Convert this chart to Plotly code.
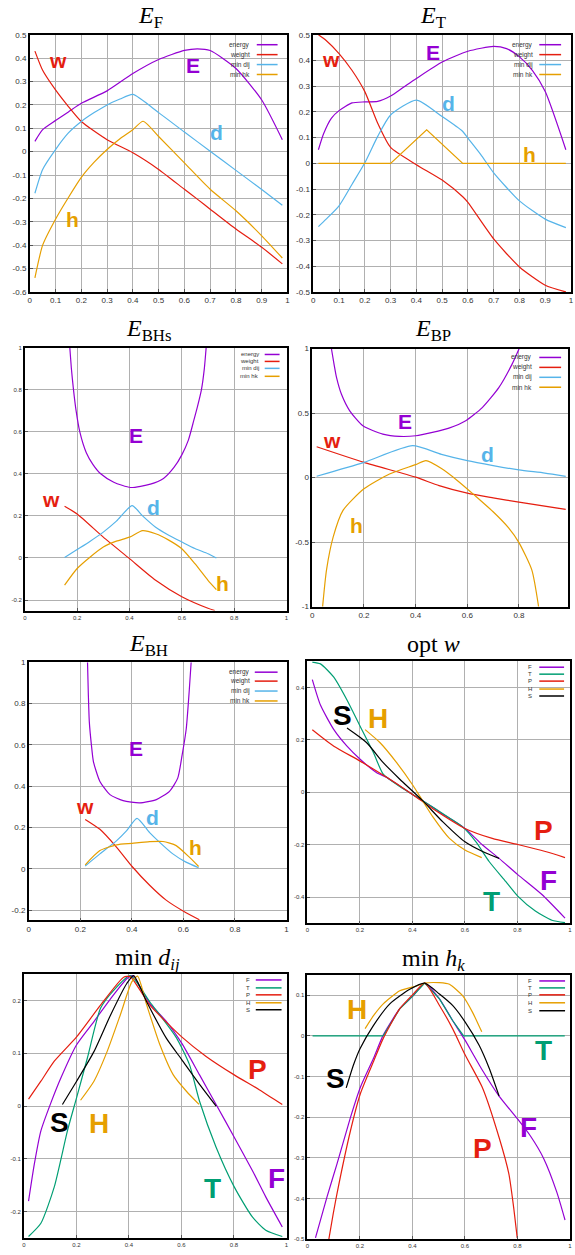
import plotly.graph_objects as go

W, H = 575, 1255

PURPLE = '#9400d3'
RED = '#e51e10'
BLUE = '#56b4e9'
ORANGE = '#e69f00'
GREEN = '#009e73'
BLACK = '#000000'

# ---------------- tick values ----------------
X_TICKS_01 = [0, 0.1, 0.2, 0.3, 0.4, 0.5, 0.6, 0.7, 0.8, 0.9, 1]
X_TICKS_02 = [0, 0.2, 0.4, 0.6, 0.8, 1]
EF_YTICKS = [-0.6, -0.5, -0.4, -0.3, -0.2, -0.1, 0, 0.1, 0.2, 0.3, 0.4, 0.5]
ET_YTICKS = [-0.5, -0.4, -0.3, -0.2, -0.1, 0, 0.1, 0.2, 0.3, 0.4, 0.5]
BH_YTICKS = [-0.2, 0, 0.2, 0.4, 0.6, 0.8, 1]
BP_YTICKS = [-1, -0.5, 0, 0.5, 1]
W_YTICKS = [-0.4, -0.2, 0, 0.2, 0.4]
D_YTICKS = [-0.2, -0.1, 0, 0.1, 0.2]
HK_YTICKS = [-0.5, -0.4, -0.3, -0.2, -0.1, 0, 0.1]

ENERGY_NAMES = ['energy', 'weight', 'min dij', 'min hk']
METHOD_NAMES = ['F', 'T', 'P', 'H', 'S']

# ---------------- E_F ----------------
ef_x = [0.02, 0.05, 0.1, 0.15, 0.2, 0.3, 0.4, 0.5, 0.6, 0.65, 0.7, 0.8, 0.9, 0.98]
ef_energy = [0.044, 0.094, 0.133, 0.17, 0.207, 0.26, 0.334, 0.394, 0.433, 0.44, 0.433, 0.356, 0.221, 0.051]
ef_weight = [0.43, 0.348, 0.264, 0.193, 0.129, 0.051, -0.005, -0.076, -0.161, -0.203, -0.246, -0.331, -0.409, -0.48]
ef_d_x = [0.02, 0.05, 0.1, 0.15, 0.2, 0.25, 0.3, 0.35, 0.4, 0.5, 0.6, 0.7, 0.8, 0.9, 0.98]
ef_d = [-0.178, -0.076, 0.009, 0.08, 0.129, 0.167, 0.2, 0.225, 0.245, 0.167, 0.084, 0.002, -0.08, -0.162, -0.229]
ef_h_x = [0.02, 0.05, 0.1, 0.15, 0.2, 0.25, 0.3, 0.35, 0.4, 0.44, 0.5, 0.6, 0.7, 0.8, 0.9, 0.98]
ef_h = [-0.54, -0.40, -0.289, -0.196, -0.11, -0.045, 0.009, 0.055, 0.094, 0.13, 0.065, -0.048, -0.161, -0.253, -0.36, -0.455]

# ---------------- E_T ----------------
et_e_x = [0.02, 0.04, 0.07, 0.1, 0.15, 0.2, 0.25, 0.3, 0.35, 0.4, 0.5, 0.6, 0.7, 0.75, 0.8, 0.85, 0.9, 0.98]
et_energy = [0.053, 0.115, 0.175, 0.205, 0.235, 0.239, 0.241, 0.262, 0.296, 0.33, 0.394, 0.436, 0.455, 0.446, 0.414, 0.362, 0.279, 0.053]
et_w_x = [0.02, 0.05, 0.1, 0.15, 0.2, 0.25, 0.3, 0.4, 0.5, 0.58, 0.6, 0.7, 0.8, 0.9, 0.98]
et_weight = [0.5, 0.478, 0.427, 0.362, 0.279, 0.156, 0.062, -0.005, -0.065, -0.13, -0.152, -0.294, -0.403, -0.474, -0.5]
et_d_x = [0.02, 0.05, 0.1, 0.15, 0.2, 0.25, 0.3, 0.4, 0.5, 0.58, 0.6, 0.65, 0.7, 0.8, 0.9, 0.98]
et_d = [-0.246, -0.217, -0.165, -0.082, 0.002, 0.105, 0.188, 0.246, 0.182, 0.124, 0.098, 0.034, -0.037, -0.146, -0.217, -0.25]
et_h_x = [0.02, 0.3, 0.44, 0.58, 0.98]
et_h = [0, 0, 0.13, 0, 0]

# ---------------- E_BHs ----------------
bhs_e_x = [0.168, 0.172, 0.178, 0.186, 0.196, 0.21, 0.235, 0.26, 0.29, 0.34, 0.404, 0.48, 0.53, 0.57, 0.6, 0.625, 0.645, 0.66, 0.675, 0.686, 0.693, 0.696]
bhs_energy = [1.05, 1.0, 0.9, 0.8, 0.7, 0.6, 0.5, 0.445, 0.4, 0.36, 0.335, 0.351, 0.378, 0.43, 0.49, 0.56, 0.65, 0.72, 0.8, 0.9, 1.0, 1.05]
bhs_w_x = [0.152, 0.2, 0.3, 0.4, 0.5, 0.6, 0.7, 0.726]
bhs_weight = [0.246, 0.209, 0.099, -0.003, -0.106, -0.184, -0.239, -0.25]
bhs_d_x = [0.152, 0.2, 0.25, 0.3, 0.35, 0.41, 0.45, 0.5, 0.55, 0.6, 0.65, 0.7, 0.732]
bhs_d = [0.002, 0.04, 0.08, 0.123, 0.175, 0.249, 0.2, 0.146, 0.108, 0.076, 0.045, 0.02, 0.0]
bhs_h_x = [0.152, 0.2, 0.25, 0.3, 0.35, 0.4, 0.45, 0.5, 0.55, 0.6, 0.65, 0.7, 0.732]
bhs_h = [-0.129, -0.05, 0.005, 0.052, 0.08, 0.099, 0.13, 0.115, 0.085, 0.044, -0.027, -0.106, -0.15]

# ---------------- E_BP ----------------
bp_e_x = [0.074, 0.085, 0.094, 0.113, 0.145, 0.196, 0.273, 0.337, 0.401, 0.465, 0.529, 0.594, 0.658, 0.722, 0.773, 0.801]
bp_energy = [1.0, 0.87, 0.774, 0.645, 0.517, 0.401, 0.337, 0.319, 0.324, 0.35, 0.383, 0.44, 0.542, 0.697, 0.877, 1.0]
bp_w_x = [0.017, 0.2, 0.4, 0.491, 0.6, 0.7, 0.8, 0.981]
bp_weight = [0.239, 0.118, 0.003, -0.062, -0.121, -0.157, -0.19, -0.247]
bp_d_x = [0.017, 0.2, 0.388, 0.5, 0.6, 0.7, 0.8, 0.9, 0.981]
bp_d = [0.01, 0.118, 0.247, 0.18, 0.131, 0.093, 0.059, 0.035, 0.01]
bp_h_x = [0.04, 0.055, 0.081, 0.119, 0.2, 0.299, 0.4, 0.44, 0.5, 0.56, 0.63, 0.7, 0.76, 0.8, 0.85, 0.876]
bp_h = [-1.0, -0.717, -0.46, -0.254, -0.087, 0.028, 0.1, 0.131, 0.07, -0.02, -0.14, -0.265, -0.39, -0.504, -0.717, -1.0]

# ---------------- E_BH ----------------
bh_e_x = [0.228, 0.231, 0.235, 0.243, 0.251, 0.276, 0.315, 0.366, 0.43, 0.495, 0.546, 0.578, 0.595, 0.611, 0.623, 0.63]
bh_energy = [1.0, 0.85, 0.71, 0.6, 0.518, 0.423, 0.359, 0.33, 0.319, 0.335, 0.375, 0.439, 0.55, 0.678, 0.869, 1.0]
bh_w_x = [0.219, 0.276, 0.341, 0.401, 0.469, 0.533, 0.602, 0.662]
bh_weight = [0.239, 0.191, 0.104, 0.011, -0.08, -0.152, -0.207, -0.247]
bh_d_x = [0.219, 0.276, 0.341, 0.379, 0.42, 0.469, 0.508, 0.559, 0.61, 0.659]
bh_d = [0.013, 0.072, 0.136, 0.183, 0.244, 0.175, 0.128, 0.072, 0.032, 0.005]
bh_h_x = [0.219, 0.276, 0.341, 0.401, 0.469, 0.521, 0.572, 0.623, 0.659]
bh_h = [0.019, 0.088, 0.116, 0.123, 0.131, 0.132, 0.112, 0.056, 0.011]

# ---------------- opt w ----------------
ow_f_x = [0.019, 0.05, 0.101, 0.151, 0.201, 0.264, 0.302, 0.35, 0.403, 0.438, 0.503, 0.6, 0.667, 0.73, 0.801, 0.893, 0.981]
ow_f = [0.43, 0.333, 0.239, 0.176, 0.126, 0.075, 0.057, 0.025, -0.01, -0.031, -0.075, -0.138, -0.201, -0.252, -0.314, -0.39, -0.48]
ow_t_x = [0.019, 0.05, 0.1, 0.151, 0.201, 0.252, 0.289, 0.352, 0.438, 0.541, 0.591, 0.642, 0.692, 0.755, 0.801, 0.868, 0.931, 0.981]
ow_t = [0.497, 0.49, 0.44, 0.352, 0.252, 0.151, 0.069, 0.022, -0.031, -0.098, -0.132, -0.189, -0.264, -0.34, -0.396, -0.453, -0.488, -0.497]
ow_p_x = [0.019, 0.101, 0.201, 0.302, 0.403, 0.478, 0.6, 0.704, 0.801, 0.906, 0.981]
ow_p = [0.239, 0.176, 0.119, 0.057, -0.01, -0.063, -0.138, -0.176, -0.199, -0.226, -0.249]
ow_h_x = [0.22, 0.277, 0.34, 0.403, 0.438, 0.478, 0.541, 0.6, 0.664]
ow_h = [0.239, 0.189, 0.113, 0.025, -0.031, -0.094, -0.176, -0.22, -0.249]
ow_s_x = [0.151, 0.226, 0.289, 0.352, 0.438, 0.516, 0.6, 0.667, 0.73]
ow_s = [0.245, 0.189, 0.113, 0.05, -0.031, -0.113, -0.189, -0.226, -0.252]

# ---------------- min d_ij ----------------
md_f_x = [0.018, 0.04, 0.065, 0.103, 0.141, 0.201, 0.267, 0.33, 0.392, 0.413, 0.48, 0.543, 0.601, 0.669, 0.732, 0.801, 0.87, 0.921, 0.984]
md_f = [-0.18, -0.11, -0.047, 0.006, 0.053, 0.116, 0.16, 0.203, 0.241, 0.247, 0.194, 0.16, 0.119, 0.059, 0.003, -0.059, -0.122, -0.172, -0.229]
md_t_x = [0.018, 0.065, 0.116, 0.166, 0.201, 0.242, 0.292, 0.342, 0.405, 0.48, 0.58, 0.631, 0.669, 0.732, 0.801, 0.87, 0.921, 0.984]
md_t = [-0.247, -0.222, -0.153, -0.047, 0.016, 0.091, 0.185, 0.219, 0.247, 0.197, 0.13, 0.078, 0.009, -0.078, -0.153, -0.21, -0.235, -0.247]
md_p_x = [0.018, 0.065, 0.116, 0.201, 0.292, 0.38, 0.405, 0.48, 0.601, 0.694, 0.801, 0.896, 0.984]
md_p = [0.013, 0.047, 0.085, 0.131, 0.191, 0.244, 0.245, 0.191, 0.131, 0.094, 0.059, 0.031, 0.003]
md_h_x = [0.216, 0.267, 0.317, 0.367, 0.411, 0.433, 0.468, 0.518, 0.569, 0.619, 0.667]
md_h = [0.011, 0.047, 0.103, 0.172, 0.235, 0.246, 0.191, 0.116, 0.059, 0.028, 0.003]
md_s_x = [0.147, 0.201, 0.267, 0.33, 0.392, 0.418, 0.468, 0.543, 0.601, 0.669, 0.732]
md_s = [0.003, 0.047, 0.103, 0.172, 0.232, 0.247, 0.197, 0.128, 0.088, 0.041, 0.0]

# ---------------- min h_k ----------------
mh_f_x = [0.031, 0.075, 0.113, 0.164, 0.201, 0.252, 0.289, 0.352, 0.403, 0.447, 0.503, 0.553, 0.59, 0.601, 0.667, 0.73, 0.801, 0.85, 0.9, 0.95, 0.981]
mh_f = [-0.497, -0.396, -0.315, -0.201, -0.128, -0.055, 0.002, 0.067, 0.099, 0.13, 0.091, 0.038, 0.0, -0.011, -0.085, -0.148, -0.205, -0.247, -0.302, -0.385, -0.453]
mh_t_x = [0.02, 0.289, 0.352, 0.403, 0.447, 0.503, 0.553, 0.58, 0.595, 0.98]
mh_t = [0, 0, 0.067, 0.099, 0.13, 0.091, 0.038, 0.012, 0, 0]
mh_p_x = [0.082, 0.098, 0.113, 0.164, 0.201, 0.252, 0.289, 0.352, 0.403, 0.447, 0.503, 0.553, 0.601, 0.667, 0.73, 0.767, 0.785, 0.799]
mh_p = [-0.5, -0.44, -0.388, -0.234, -0.144, -0.063, -0.006, 0.067, 0.103, 0.13, 0.075, 0.018, -0.047, -0.128, -0.25, -0.339, -0.42, -0.497]
mh_h_x = [0.22, 0.252, 0.289, 0.352, 0.415, 0.447, 0.503, 0.541, 0.591, 0.629, 0.664]
mh_h = [0.018, 0.05, 0.079, 0.111, 0.123, 0.13, 0.131, 0.127, 0.099, 0.058, 0.01]
mh_s_x = [0.148, 0.176, 0.201, 0.252, 0.314, 0.39, 0.447, 0.503, 0.553, 0.601, 0.654, 0.692, 0.73]
mh_s = [-0.128, -0.071, -0.031, 0.026, 0.079, 0.115, 0.13, 0.103, 0.075, 0.034, -0.023, -0.079, -0.148]

# piecewise straight series keep straight segments
LINEAR = [id(et_h), id(mh_t)]


def px(x):
    return x / W


def py(y):
    return 1 - y / H


ecol = [PURPLE, RED, BLUE, ORANGE]
mcol = [PURPLE, GREEN, RED, ORANGE, BLACK]

panels = [
    dict(box=(28, 31, 288, 290), xr=[0, 1], yr=[-0.6, 0.5], xt=X_TICKS_01, yt=EF_YTICKS, fs=8,
         title='<i>E</i><sub>F</sub>', tpos=(150, 13),
         series=[(ef_x, ef_energy), (ef_x, ef_weight), (ef_d_x, ef_d), (ef_h_x, ef_h)], colors=ecol, names=ENERGY_NAMES,
         leg=(252, 257, 278, [41, 51, 61, 71], 6.5),
         labels=[('w', 0.11, 0.39, RED), ('E', 0.632, 0.37, PURPLE), ('d', 0.724, 0.08, BLUE), ('h', 0.167, -0.289, ORANGE)], lsize=21),
    dict(box=(314, 31, 574, 290), xr=[0, 1], yr=[-0.5, 0.5], xt=X_TICKS_01, yt=ET_YTICKS, fs=8,
         title='<i>E</i><sub>T</sub>', tpos=(435, 13),
         series=[(et_e_x, et_energy), (et_w_x, et_weight), (et_d_x, et_d), (et_h_x, et_h)], colors=ecol, names=ENERGY_NAMES,
         leg=(538, 542, 564, [41, 51, 61, 71], 6.5),
         labels=[('w', 0.07, 0.403, RED), ('E', 0.464, 0.43, PURPLE), ('d', 0.524, 0.234, BLUE), ('h', 0.84, 0.034, ORANGE)], lsize=21),
    dict(box=(23, 346, 287, 611), xr=[0, 1], yr=[-0.25, 1], xt=X_TICKS_02, yt=BH_YTICKS, fs=6,
         title='<i>E</i><sub>BHs</sub>', tpos=(148, 328),
         series=[(bhs_e_x, bhs_energy), (bhs_w_x, bhs_weight), (bhs_d_x, bhs_d), (bhs_h_x, bhs_h)], colors=ecol, names=ENERGY_NAMES,
         leg=(261, 265, 280, [353, 360, 367, 375], 6),
         labels=[('w', 0.1, 0.28, RED), ('E', 0.423, 0.58, PURPLE), ('d', 0.49, 0.24, BLUE), ('h', 0.755, -0.12, ORANGE)], lsize=21),
    dict(box=(313, 347, 571, 607), xr=[0, 0.99], yr=[-1, 1], xt=X_TICKS_02, yt=BP_YTICKS, fs=8,
         title='<i>E</i><sub>BP</sub>', tpos=(435, 328),
         series=[(bp_e_x, bp_energy), (bp_w_x, bp_weight), (bp_d_x, bp_d), (bp_h_x, bp_h)], colors=ecol, names=ENERGY_NAMES,
         leg=(537, 542, 564, [356, 366, 376, 386], 6.5),
         labels=[('w', 0.078, 0.29, RED), ('E', 0.36, 0.434, PURPLE), ('d', 0.677, 0.177, BLUE), ('h', 0.17, -0.37, ORANGE)], lsize=21),
    dict(box=(27, 663, 287, 923), xr=[0, 1], yr=[-0.25, 1], xt=X_TICKS_02, yt=BH_YTICKS, fs=8,
         title='<i>E</i><sub>BH</sub>', tpos=(148, 646),
         series=[(bh_e_x, bh_energy), (bh_w_x, bh_weight), (bh_d_x, bh_d), (bh_h_x, bh_h)], colors=ecol, names=ENERGY_NAMES,
         leg=(252, 255, 278, [673, 682, 692, 702], 6.5),
         labels=[('w', 0.219, 0.3, RED), ('E', 0.418, 0.58, PURPLE), ('d', 0.482, 0.247, BLUE), ('h', 0.647, 0.104, ORANGE)], lsize=21),
    dict(box=(308, 662, 573, 926), xr=[0, 1], yr=[-0.5, 0.5], xt=X_TICKS_02, yt=W_YTICKS, fs=6,
         title='opt <i>w</i>', tpos=(435, 645),
         series=[(ow_f_x, ow_f), (ow_t_x, ow_t), (ow_p_x, ow_p), (ow_h_x, ow_h), (ow_s_x, ow_s)], colors=mcol, names=METHOD_NAMES,
         leg=(537, 542, 567, [668, 675, 682, 690, 697], 6),
         labels=[('S', 0.132, 0.292, BLACK), ('H', 0.268, 0.283, ORANGE), ('P', 0.9, -0.145, RED),
                 ('F', 0.918, -0.337, PURPLE), ('T', 0.702, -0.415, GREEN)], lsize=28),
    dict(box=(22, 977, 287, 1243), xr=[0, 1], yr=[-0.25, 0.25], xt=X_TICKS_02, yt=D_YTICKS, fs=6,
         title='min <i>d</i><sub><i>ij</i></sub>', tpos=(147, 962),
         series=[(md_f_x, md_f), (md_t_x, md_t), (md_p_x, md_p), (md_h_x, md_h), (md_s_x, md_s)], colors=mcol, names=METHOD_NAMES,
         leg=(252, 256, 282, [983, 991, 998, 1006, 1013], 6),
         labels=[('S', 0.137, -0.031, BLACK), ('H', 0.287, -0.034, ORANGE), ('P', 0.889, 0.069, RED),
                 ('T', 0.72, -0.156, GREEN), ('F', 0.961, -0.138, PURPLE)], lsize=28),
    dict(box=(308, 978, 573, 1244), xr=[0, 1], yr=[-0.5, 0.15], xt=X_TICKS_02, yt=HK_YTICKS, fs=6,
         title='min <i>h</i><sub><i>k</i></sub>', tpos=(435, 963),
         series=[(mh_f_x, mh_f), (mh_t_x, mh_t), (mh_p_x, mh_p), (mh_h_x, mh_h), (mh_s_x, mh_s)], colors=mcol, names=METHOD_NAMES,
         leg=(537, 542, 568, [984, 991, 998, 1006, 1014], 6),
         labels=[('H', 0.189, 0.065, ORANGE), ('S', 0.107, -0.104, BLACK), ('T', 0.9, -0.035, GREEN),
                 ('F', 0.843, -0.225, PURPLE), ('P', 0.667, -0.278, RED)], lsize=28),
]

fig = go.Figure()
annotations = []
shapes = []
layout = {}

for i, p in enumerate(panels):
    n = i + 1
    sfx = '' if n == 1 else str(n)
    l, t, r, b = p['box']
    tickfont = dict(size=p['fs'], family='Liberation Sans, Arial', color='#333')
    common = dict(showgrid=True, gridcolor='#b0b0b0', gridwidth=1, showline=True, linecolor='black',
                  linewidth=1.5, mirror=True, ticks='inside', ticklen=3, tickcolor='#555', zeroline=False,
                  tickfont=tickfont, fixedrange=True)
    layout['xaxis' + sfx] = dict(domain=[px(l), px(r)], range=p['xr'], tickvals=p['xt'],
                                 ticktext=[f'{v:g}' for v in p['xt']], anchor='y' + sfx, **common)
    layout['yaxis' + sfx] = dict(domain=[py(b), py(t)], range=p['yr'], tickvals=p['yt'],
                                 ticktext=[f'{v:g}' for v in p['yt']], anchor='x' + sfx, **common)

    for (xs, ys), col, name in zip(p['series'], p['colors'], p['names']):
        if id(ys) in LINEAR:
            ln = dict(color=col, width=1.2, shape='linear')
        else:
            ln = dict(color=col, width=1.2, shape='spline', smoothing=0.6)
        fig.add_trace(go.Scatter(x=xs, y=ys, mode='lines', name=name, showlegend=False,
                                 line=ln, xaxis='x' + sfx, yaxis='y' + sfx))

    # title
    annotations.append(dict(xref='paper', yref='paper', x=px(p['tpos'][0]), y=py(p['tpos'][1]),
                            xanchor='center', yanchor='middle', showarrow=False, text=p['title'],
                            font=dict(size=24, family='Liberation Serif, DejaVu Serif', color='black')))

    # gnuplot style key: text right aligned, sample line on the right
    tx, s0, s1, rows, lfs = p['leg']
    for name, col, yy in zip(p['names'], p['colors'], rows):
        annotations.append(dict(xref='paper', yref='paper', x=px(tx), y=py(yy), xanchor='right', yanchor='middle',
                                showarrow=False, text=name, font=dict(size=lfs, family='Liberation Sans, Arial', color='#333')))
        shapes.append(dict(type='line', xref='paper', yref='paper', x0=px(s0), x1=px(s1), y0=py(yy), y1=py(yy),
                           line=dict(color=col, width=1.5)))

    # big curve labels
    for txt, lx, ly, col in p['labels']:
        annotations.append(dict(xref='x' + sfx, yref='y' + sfx, x=lx, y=ly, xanchor='center', yanchor='middle',
                                showarrow=False, text=f'<b>{txt}</b>',
                                font=dict(size=p['lsize'], family='Liberation Sans, Arial', color=col)))

fig.update_layout(**layout)
fig.update_layout(
    width=W, height=H,
    margin=dict(l=0, r=0, t=0, b=0),
    paper_bgcolor='white', plot_bgcolor='white',
    showlegend=False,
    annotations=annotations,
    shapes=shapes,
)

# drop the default page margin so the figure fills the window exactly
fig.write_html("out.html", config={'displayModeBar': False},
               post_script="document.body.style.margin='0';document.documentElement.style.overflow='hidden';")
